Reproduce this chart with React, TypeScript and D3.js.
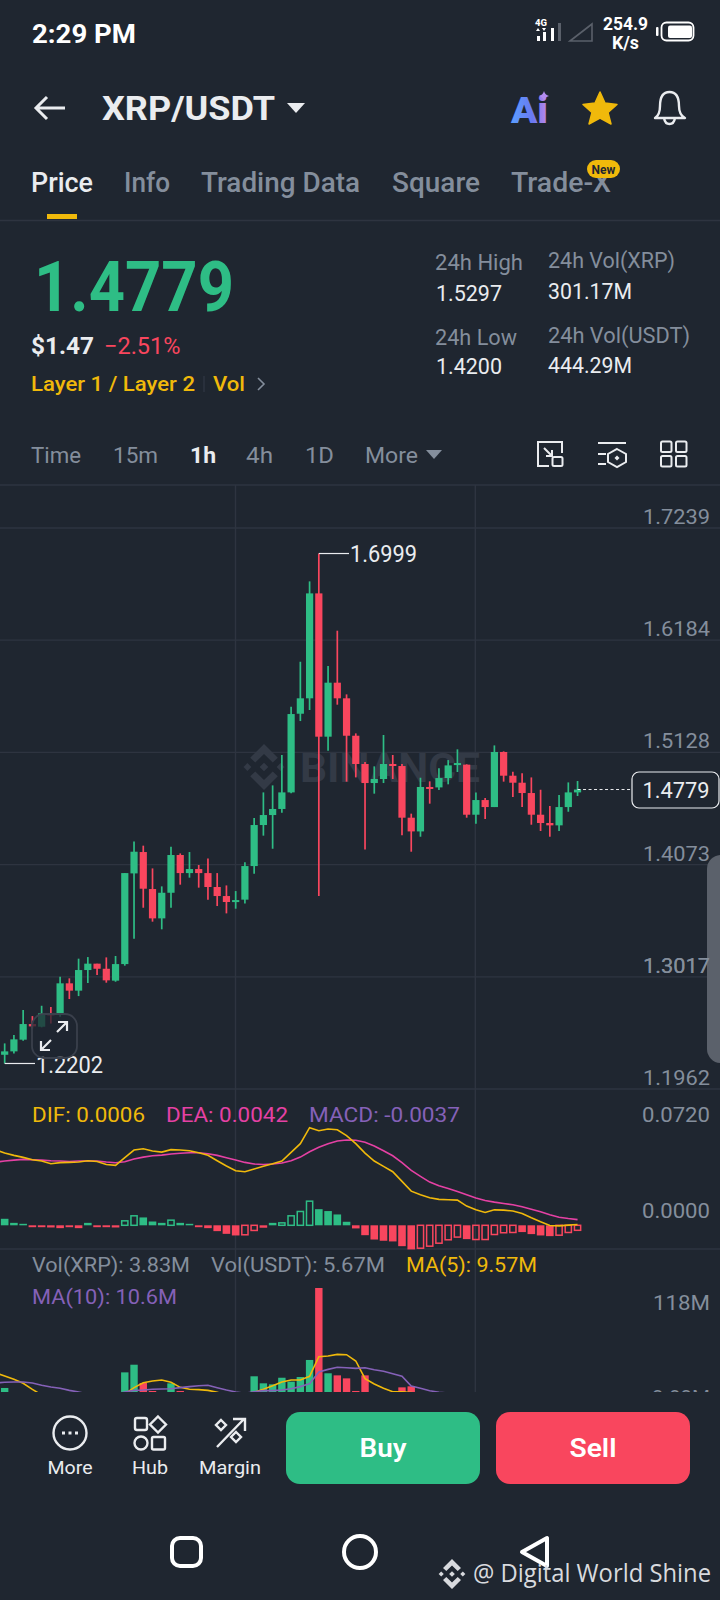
import * as React from "react";
import { scaleLinear, line as d3Line } from "d3";

const BG = "#1f2630";
const GRID = "#2e3440";
const GREEN = "#2ebd85";
const RED = "#f9465e";
const YELLOW = "#f0b90b";
const GREY = "#848e9c";
const PINK = "#e541a4";
const PURPLE = "#8561b8";
const FONT = "Roboto, Inter, sans-serif";

const priceTicks = [1.7239, 1.6184, 1.5128, 1.4073, 1.3017, 1.1962];
const priceTickLabels = ["1.7239", "1.6184", "1.5128", "1.4073", "1.3017", "1.1962"];

const opens = [
  1.2284, 1.2316, 1.2426, 1.2573, 1.2548, 1.2673, 1.2673, 1.2956, 1.2887, 1.3081,
  1.3141, 1.3093, 1.2981, 1.3137, 1.399, 1.4191, 1.3843, 1.3567, 1.3808, 1.4163,
  1.3993, 1.4031, 1.3993, 1.3862, 1.3777, 1.3724, 1.3743, 1.4059, 1.4445, 1.4539,
  1.4596, 1.4752, 1.5492, 1.5637, 1.6624, 1.5276, 1.5784, 1.5637, 1.5285, 1.5019,
  1.484, 1.4878, 1.5019, 1.5, 1.4514, 1.4385, 1.4803, 1.4799, 1.4887, 1.5009,
  1.5013, 1.4542, 1.468, 1.4614, 1.5132, 1.4909, 1.4843, 1.4746, 1.4542, 1.4464,
  1.4442, 1.4614, 1.4752,
];
const highs = [
  1.2391, 1.2469, 1.2705, 1.2648, 1.2745, 1.2733, 1.3018, 1.3003, 1.3188, 1.3203,
  1.3141, 1.32, 1.3213, 1.3993, 1.4291, 1.4251, 1.4037, 1.3868, 1.4241, 1.4178,
  1.4191, 1.4069, 1.4131, 1.3993, 1.3877, 1.3824, 1.4094, 1.4511, 1.4752, 1.4818,
  1.5104, 1.5558, 1.5981, 1.6737, 1.6999, 1.5941, 1.6273, 1.5674, 1.5307, 1.5038,
  1.4997, 1.5292, 1.5104, 1.5019, 1.4552, 1.489, 1.4856, 1.4978, 1.5056, 1.5157,
  1.5016, 1.4752, 1.4699, 1.5194, 1.5138, 1.4947, 1.4931, 1.4893, 1.4777, 1.4624,
  1.4727, 1.4846, 1.4859,
];
const lows = [
  1.2202, 1.2297, 1.2416, 1.2532, 1.2542, 1.2579, 1.2642, 1.2808, 1.2836, 1.2959,
  1.3034, 1.2962, 1.2971, 1.3122, 1.3376, 1.3667, 1.3536, 1.3464, 1.3667, 1.3884,
  1.395, 1.3856, 1.3743, 1.3683, 1.3614, 1.3658, 1.3708, 1.3987, 1.4345, 1.4222,
  1.4561, 1.4743, 1.5423, 1.5527, 1.3777, 1.5144, 1.5577, 1.4853, 1.4893, 1.4216,
  1.474, 1.484, 1.4878, 1.4348, 1.4194, 1.4335, 1.4646, 1.4774, 1.4828, 1.4944,
  1.4514, 1.4458, 1.4501, 1.4614, 1.4853, 1.4708, 1.4614, 1.4448, 1.4389, 1.4335,
  1.4389, 1.457, 1.4718,
];
const closes = [
  1.2316, 1.2429, 1.2573, 1.2551, 1.2673, 1.2658, 1.2956, 1.2887, 1.3081, 1.3141,
  1.3093, 1.2984, 1.3137, 1.3993, 1.4194, 1.3846, 1.3567, 1.3808, 1.4163, 1.3993,
  1.4031, 1.3993, 1.3862, 1.3777, 1.3721, 1.3739, 1.4059, 1.4445, 1.4539, 1.4596,
  1.4752, 1.5489, 1.5637, 1.6624, 1.5276, 1.5784, 1.5637, 1.5285, 1.5019, 1.484,
  1.4878, 1.5019, 1.5003, 1.4514, 1.4385, 1.4803, 1.4787, 1.4887, 1.5006, 1.5028,
  1.4542, 1.468, 1.4614, 1.5132, 1.4909, 1.4843, 1.4746, 1.4542, 1.4464, 1.4442,
  1.4614, 1.4752, 1.4779,
];

// macd panel, the line lists start one candle left of the screen
const difValues = [
  0.0558, 0.0533, 0.0516, 0.0501, 0.0484, 0.0474, 0.0454, 0.0462, 0.0464, 0.0467, 0.0476,
  0.0471, 0.0449, 0.0442, 0.0499, 0.0555, 0.0565, 0.0548, 0.054, 0.0558, 0.0555,
  0.055, 0.0535, 0.0516, 0.0476, 0.0437, 0.0403, 0.0395, 0.0415, 0.0435, 0.0454,
  0.0474, 0.0538, 0.0602, 0.072, 0.0698, 0.071, 0.0705, 0.0661, 0.0602, 0.0533,
  0.0474, 0.0435, 0.0395, 0.0324, 0.0252, 0.0225, 0.0203, 0.0191, 0.0188, 0.0186,
  0.0142, 0.0114, 0.0095, 0.0114, 0.0112, 0.0105, 0.0087, 0.0055, 0.0026, -0.0001,
  -0.0004, 0.0001, 0.0006,
];
const deaValues = [
  0.0466, 0.0474, 0.0481, 0.0486, 0.0484, 0.0481, 0.0476, 0.0474, 0.0471, 0.0474, 0.0474,
  0.0474, 0.0467, 0.0462, 0.0469, 0.0489, 0.0503, 0.0513, 0.0518, 0.0526, 0.0531,
  0.0535, 0.0535, 0.0528, 0.0516, 0.0499, 0.0481, 0.0464, 0.0452, 0.0449, 0.0452,
  0.0459, 0.0476, 0.0503, 0.0543, 0.0575, 0.0602, 0.0622, 0.0629, 0.0627, 0.0612,
  0.0585, 0.055, 0.0513, 0.0462, 0.0405, 0.0361, 0.0319, 0.0292, 0.0272, 0.025,
  0.0225, 0.0201, 0.0183, 0.0171, 0.0161, 0.0151, 0.0137, 0.0119, 0.01, 0.0078,
  0.006, 0.005, 0.0042,
];
const macdBars = [
  0.0048, 0.0018, 0.0011, -0.0014, -0.0014, -0.0016, -0.0021, -0.0014, -0.0021, 0.0018,
  -0.0014, -0.0014, -0.0016, 0.0033, 0.007, 0.0058, 0.0028, 0.0018, 0.0038, 0.0018,
  0.0011, -0.0014, -0.0021, -0.0043, -0.0063, -0.0075, -0.007, -0.0038, -0.0018, 0.0018,
  0.0018, 0.007, 0.0102, 0.0178, 0.0119, 0.0105, 0.008, 0.0026, -0.0023, -0.0073,
  -0.0105, -0.0114, -0.0119, -0.0154, -0.0178, -0.0169, -0.0154, -0.0132, -0.0107, -0.0087,
  -0.0102, -0.0105, -0.0105, -0.0068, -0.0055, -0.0053, -0.005, -0.0065, -0.0075, -0.008,
  -0.0073, -0.0053, -0.0037,
];
const macdHollow = [13, 14, 18, 26, 27, 30, 31, 32, 33, 45, 46, 47, 48, 49, 51, 52, 53, 54, 55, 60, 61, 62];

// volume in millions, most of it is cut off by the footer so those are guesses
const volumes = [
  21.3, 15, 17, 12, 14, 9, 16, 10, 13, 8, 10, 12, 14, 36.4, 43.8, 26.1, 18.4, 14, 25.8, 18.4,
  12, 11, 10, 12, 9, 8, 14, 32.6, 25.8, 24.8, 31.2, 27.4, 31.9, 48.4, 118, 35.5, 33.5, 30.6, 18.4, 33.5,
  12, 15, 10, 21.9, 22.9, 16, 8, 9, 10, 7, 15, 9, 6, 14, 12, 8, 9, 13, 11, 8, 9, 7, 3.83,
];
const ma5Values = [
  36.1, 32.9, 29.7, 25.8, 20, 14.5, 13, 12, 11.5, 11, 11, 10.5, 10.5, 11, 15.5, 21.6, 26.4, 28, 29,
  26.8, 21.9, 20, 19.7, 19, 17.1, 14.5, 14.5, 15.5, 17.1, 20, 23.5, 27.1, 29, 29, 32.6,
  51.6, 52.2, 53.8, 53.5, 47.4, 30.3, 25.1, 21, 17.7, 17.7, 16.8, 15.5, 14.5, 13.5, 13,
  12.5, 12, 12, 11.5, 12, 12, 11.5, 11, 11, 10.5, 10.5, 10, 9.8, 9.57,
];
const ma10Values = [
  26.1, 26.8, 27.1, 27.1, 26.1, 23.9, 22.2, 21, 19, 17.4, 15.5, 14.5, 13.9, 15.5, 17.4, 19, 19.3, 20, 20.3,
  20.6, 21.6, 22.6, 23.5, 23.9, 21.6, 19.3, 17.4, 16.1, 17.7, 18.7, 18.7, 19.3, 20.6, 22.6, 25.5,
  36.8, 39.3, 41.3, 40.9, 40.3, 40.9, 39, 37.4, 35.1, 32.6, 23.2, 21, 18.7, 17.1, 16.5,
  16, 15.5, 15, 14.5, 14, 13.5, 13, 12.5, 12, 11.5, 11.5, 11, 10.8, 10.6,
];

const x = scaleLinear().domain([0, 62]).range([4.67, 577.55]);
const priceY = scaleLinear().domain([1.1962, 1.7239]).range([1089, 528]);
const macdY = scaleLinear().domain([0, 0.072]).range([1225.3, 1127.7]);
const volY = scaleLinear().domain([0, 118]).range([1410, 1288]);

const macdLine = d3Line<number>()
  .x((_, i) => x(i - 1))
  .y((d) => macdY(d));
const volLine = d3Line<number>()
  .x((_, i) => x(i - 1))
  .y((d) => volY(d));

const BODY_W = 7.2;

// binance diamond, r is centre to tip
const BinanceLogo = ({ cx, cy, r, fill }: { cx: number; cy: number; r: number; fill: string }) => (
  <g transform={`translate(${cx},${cy}) scale(${r})`} fill={fill}>
    <path d="M0,-.19 L.19,0 L0,.19 L-.19,0Z" />
    <path d="M-.72,-.17 L-.55,0 L-.72,.17 L-.89,0Z" />
    <path d="M.72,-.17 L.89,0 L.72,.17 L.55,0Z" />
    <path d="M0,-1 L.6,-.4 L.38,-.2 L0,-.57 L-.38,-.2 L-.6,-.4Z" />
    <path d="M0,1 L.6,.4 L.38,.2 L0,.57 L-.38,.2 L-.6,.4Z" />
  </g>
);

// w forces the width measured off the reference, the app's own font isn't available
const Label = ({ x: tx, y, size, fill = GREY, weight = 400, anchor = "start", w, children }: any) => (
  <text
    x={tx}
    y={y}
    fontSize={size}
    fill={fill}
    fontWeight={weight}
    textAnchor={anchor}
    textLength={w}
    lengthAdjust={w ? "spacingAndGlyphs" : undefined}
  >
    {children}
  </text>
);

const Candles = () => (
  <g>
    {opens.map((o, i) => {
      const c = closes[i];
      const color = c >= o ? GREEN : RED;
      const top = priceY(Math.max(o, c));
      const bottom = priceY(Math.min(o, c));
      return (
        <g key={i}>
          <line x1={x(i)} x2={x(i)} y1={priceY(highs[i])} y2={priceY(lows[i])} stroke={color} strokeWidth={1.7} />
          <rect x={x(i) - BODY_W / 2} y={top} width={BODY_W} height={Math.max(bottom - top, 2)} fill={color} />
        </g>
      );
    })}
  </g>
);

const MacdBars = () => (
  <g>
    {macdBars.map((v, i) => {
      const color = v >= 0 ? GREEN : RED;
      const top = macdY(Math.max(v, 0));
      const h = Math.abs(macdY(v) - macdY(0));
      if (macdHollow.includes(i)) {
        return (
          <rect key={i} x={x(i) - 3.1} y={top} width={6.2} height={h} fill="none" stroke={color} strokeWidth={1.5} />
        );
      }
      return <rect key={i} x={x(i) - 3.8} y={top} width={7.6} height={Math.max(h, 1.5)} fill={color} />;
    })}
  </g>
);

const VolumeBars = () => (
  <g>
    {volumes.map((v, i) => (
      <rect
        key={i}
        x={x(i) - 3.7}
        y={volY(v)}
        width={7.4}
        height={volY(0) - volY(v)}
        fill={closes[i] >= opens[i] ? GREEN : RED}
      />
    ))}
  </g>
);

const StatusBar = () => (
  <g>
    <Label x={32} y={43} size={26} fill="#fff" weight={700} w={104}>2:29 PM</Label>
    <Label x={535} y={26} size={9.5} fill="#fff" weight={800}>4G</Label>
    <path d="M538,28 l2,3 h-4Z M544,31 l-2,-3 h4Z" fill="#fff" />
    <g fill="#fff">
      <rect x={537} y={36} width={3} height={5} />
      <rect x={543} y={32} width={3} height={9} />
      <rect x={551} y={28} width={3} height={13} />
    </g>
    <rect x={558} y={23} width={3} height={18} fill="#5a606a" />
    <path d="M570,41 L592,24 V41Z" fill="none" stroke="#5a606a" strokeWidth={1.6} />
    <Label x={625.5} y={30} size={18} fill="#fff" weight={700} anchor="middle" w={45}>254.9</Label>
    <Label x={625.5} y={49} size={18} fill="#fff" weight={700} anchor="middle" w={27}>K/s</Label>
    <rect x={656} y={27} width={2.5} height={9} rx={1} fill="#fff" />
    <rect x={661.5} y={22.5} width={32} height={18} rx={5} fill="none" stroke="#fff" strokeWidth={1.8} />
    <rect x={668} y={25.5} width={24} height={12.5} rx={2} fill="#fff" />
  </g>
);

const Header = () => (
  <g>
    <path d="M36,108 H65 M47,97 L36,108 L47,119" fill="none" stroke="#eaecef" strokeWidth={3} />
    <Label x={102} y={120} size={33} fill="#eaecef" weight={700} w={173}>XRP/USDT</Label>
    <path d="M287,103 H305 L296,113Z" fill="#eaecef" />
    <defs>
      <linearGradient id="aiGrad" x1="0" x2="1" y1="0" y2="0">
        <stop offset="0" stopColor="#5aa0ff" />
        <stop offset="0.6" stopColor="#6a78f0" />
        <stop offset="1" stopColor="#c088e8" />
      </linearGradient>
    </defs>
    <Label x={511} y={123} size={37} fill="url(#aiGrad)" weight={900} w={37}>Ai</Label>
    <path d="M544,91 Q545,95 549,96 Q545,97 544,101 Q543,97 539,96 Q543,95 544,91Z" fill="#b38cf0" />
    <path
      d="M600,92 L605,103 L617,104.5 L608,112.5 L611,124 L600,118 L589,124 L592,112.5 L583,104.5 L595,103Z"
      fill={YELLOW}
      stroke={YELLOW}
      strokeLinejoin="round"
      strokeWidth={1.5}
    />
    <path
      d="M655,118 Q660,115 660,106 Q660,92 669.5,92 Q679,92 679,106 Q679,115 685,118 Z M664,118 Q665,124 669.5,124 Q674,124 675,118"
      fill="none"
      stroke="#eaecef"
      strokeWidth={2.4}
      strokeLinejoin="round"
    />
    <Label x={31} y={192} size={27} fill="#eaecef" weight={500} w={62}>Price</Label>
    <Label x={124} y={192} size={27} weight={500} w={46}>Info</Label>
    <Label x={201} y={192} size={27} weight={500} w={159}>Trading Data</Label>
    <Label x={392} y={192} size={27} weight={500} w={88}>Square</Label>
    <Label x={511} y={192} size={27} weight={500} w={100}>Trade-X</Label>
    <rect x={587} y={160} width={33} height={18} rx={9} fill={YELLOW} />
    <Label x={603.5} y={173.5} size={12} fill="#1f2630" weight={700} anchor="middle">New</Label>
    <rect x={47} y={214} width={30} height={5} fill={YELLOW} />
    <line x1={0} x2={720} y1={220.5} y2={220.5} stroke={GRID} strokeWidth={1.5} />
  </g>
);

const Stats = () => (
  <g>
    <Label x={34} y={311} size={70} fill={GREEN} weight={700} w={200}>1.4779</Label>
    <Label x={31} y={354} size={23} fill="#eaecef" weight={700} w={63}>$1.47</Label>
    <Label x={104} y={354} size={23} fill={RED} w={76.5}>−2.51%</Label>
    <Label x={31} y={391} size={20} fill={YELLOW} weight={500} w={164}>Layer 1 / Layer 2</Label>
    <line x1={204} x2={204} y1={376} y2={392} stroke={GRID} strokeWidth={1.5} />
    <Label x={213} y={391} size={20} fill={YELLOW} weight={500} w={32}>Vol</Label>
    <path d="M258,378 L264,384 L258,390" fill="none" stroke={GREY} strokeWidth={1.6} />
    <Label x={435} y={270} size={21.5} w={88}>24h High</Label>
    <Label x={436} y={301} size={21.5} fill="#eaecef" w={66}>1.5297</Label>
    <Label x={548} y={268} size={21.5} w={127}>24h Vol(XRP)</Label>
    <Label x={548} y={299} size={21.5} fill="#eaecef" w={84}>301.17M</Label>
    <Label x={435} y={345} size={21.5} w={82}>24h Low</Label>
    <Label x={436} y={374} size={21.5} fill="#eaecef" w={66}>1.4200</Label>
    <Label x={548} y={343} size={21.5} w={142}>24h Vol(USDT)</Label>
    <Label x={548} y={373} size={21.5} fill="#eaecef" w={84}>444.29M</Label>
  </g>
);

const IntervalRow = () => (
  <g>
    <Label x={31} y={463} size={22} w={50}>Time</Label>
    <Label x={113} y={463} size={22} w={45}>15m</Label>
    <Label x={190} y={463} size={22} fill="#eaecef" weight={700} w={26}>1h</Label>
    <Label x={246} y={463} size={22} w={27}>4h</Label>
    <Label x={305} y={463} size={22} w={29}>1D</Label>
    <Label x={365} y={463} size={22} w={53}>More</Label>
    <path d="M426,450 H442 L434,459Z" fill={GREY} />
    <g fill="none" stroke="#eaecef" strokeWidth={2}>
      <path d="M549,466 H538 V442 H562 V453" />
      <rect x={552.5} y={457} width={10} height={9} rx={1.5} />
      <path d="M544,448 L552,456 M552,450 V456 H546" />
      <path d="M598,443 H626 M598,454 H606 M598,464 H606" />
      <path d="M617,449 L626,454 V462 L617,467 L608,462 V454Z" />
      <rect x={661} y={441.5} width={10.5} height={10.5} rx={1.5} />
      <rect x={676} y={441.5} width={10.5} height={10.5} rx={1.5} />
      <rect x={661} y={456} width={10.5} height={10.5} rx={1.5} />
      <rect x={676} y={456} width={10.5} height={10.5} rx={1.5} />
    </g>
    <path d="M617,455.5 l2.5,2.5 l-2.5,2.5 l-2.5,-2.5Z" fill="#eaecef" />
    <line x1={0} x2={720} y1={485} y2={485} stroke={GRID} strokeWidth={1.5} />
  </g>
);

const Footer = () => (
  <g>
    <rect x={0} y={1392} width={720} height={208} fill={BG} />
    <g fill="none" stroke="#eaecef" strokeWidth={2.4}>
      <circle cx={70} cy={1433} r={16.5} />
      <rect x={135} y={1418} width={12} height={12} rx={2} />
      <path d="M158,1416.5 L166,1424.5 L158,1432.5 L150,1424.5Z" />
      <circle cx={141} cy={1443} r={6.5} />
      <rect x={152} y={1437} width={13} height={12.5} rx={1.5} />
      <path d="M217,1447 L244,1419 M233,1419 H245 V1431" />
      <path d="M221,1420 L226,1425 L221,1430 L216,1425Z" />
      <path d="M236,1432 L241,1437 L236,1442 L231,1437Z" />
    </g>
    <g fill="#eaecef">
      <rect x={62} y={1431.5} width={3} height={3} />
      <rect x={68.5} y={1431.5} width={3} height={3} />
      <rect x={75} y={1431.5} width={3} height={3} />
    </g>
    <Label x={70} y={1474} size={19} fill="#eaecef" anchor="middle" w={45}>More</Label>
    <Label x={150} y={1474} size={19} fill="#eaecef" anchor="middle" w={36}>Hub</Label>
    <Label x={230} y={1474} size={19} fill="#eaecef" anchor="middle" w={62}>Margin</Label>
    <rect x={286} y={1412} width={194} height={72} rx={14} fill={GREEN} />
    <Label x={383} y={1457} size={26} fill="#fff" weight={600} anchor="middle" w={47}>Buy</Label>
    <rect x={496} y={1412} width={194} height={72} rx={14} fill={RED} />
    <Label x={593} y={1457} size={26} fill="#fff" weight={600} anchor="middle" w={47}>Sell</Label>
    <g fill="none" stroke="#fff" strokeWidth={4}>
      <rect x={172} y={1538} width={29} height={28} rx={8} />
      <circle cx={360} cy={1552} r={16} />
      <path d="M547,1538 V1566 L522,1552Z" strokeLinejoin="round" />
    </g>
    <BinanceLogo cx={452} cy={1574} r={15} fill="#d8dade" />
    <text x={473} y={1582} fontSize={25} fill="#d8dade" fontFamily="'Open Sans', sans-serif" textLength={238} lengthAdjust="spacingAndGlyphs">
      @ Digital World Shine
    </text>
  </g>
);

export default function App() {
  const lastY = priceY(closes[closes.length - 1]);
  return (
    <svg
      width={720}
      height={1600}
      style={{ position: "absolute", left: 0, top: 0, background: BG, fontFamily: FONT }}
    >
      <StatusBar />
      <Header />
      <Stats />
      <IntervalRow />

      {/* grid */}
      {[235.5, 475.3].map((gx) => (
        <line key={gx} x1={gx} x2={gx} y1={485} y2={1392} stroke={GRID} strokeWidth={1.4} />
      ))}
      {priceTicks.map((t) => (
        <line key={t} x1={0} x2={720} y1={priceY(t)} y2={priceY(t)} stroke={GRID} strokeWidth={1.4} />
      ))}
      <line x1={0} x2={720} y1={1249} y2={1249} stroke={GRID} strokeWidth={1.4} />

      {/* watermark sits under the candles */}
      <BinanceLogo cx={264} cy={767} r={23} fill="#333a46" />
      <text x={300} y={782} fontSize={40} fontWeight={700} fill="#333a46" textLength={180} lengthAdjust="spacingAndGlyphs">
        BINANCE
      </text>

      <Candles />

      {priceTickLabels.map((t, i) => (
        <Label key={t} x={710} y={priceY(priceTicks[i]) - 4} size={21} anchor="end" w={67}>{t}</Label>
      ))}

      {/* high and low markers */}
      <line x1={x(34)} x2={349} y1={priceY(highs[34])} y2={priceY(highs[34])} stroke="#eaecef" strokeWidth={1.2} />
      <Label x={350} y={562} size={23} fill="#eaecef" w={67}>1.6999</Label>
      <line x1={x(0)} x2={35} y1={priceY(lows[0])} y2={priceY(lows[0])} stroke="#eaecef" strokeWidth={1.2} />
      <Label x={36} y={1073} size={23} fill="#eaecef" w={67}>1.2202</Label>

      {/* expand button */}
      <rect x={32} y={1014} width={45} height={44} rx={12} fill={BG} fillOpacity={0.75} stroke="#3a404c" strokeWidth={1.8} />
      <path
        d="M57,1032 L67,1022 M58,1022 H67 V1031 M51,1040 L41,1050 M41,1041 V1050 H50"
        fill="none"
        stroke="#eaecef"
        strokeWidth={2.2}
      />

      {/* last price */}
      <line x1={x(62)} x2={632} y1={lastY} y2={lastY} stroke="#eaecef" strokeWidth={1} strokeDasharray="3 2.5" />
      <rect x={632} y={772} width={87} height={36} rx={7} fill={BG} stroke="#eaecef" strokeWidth={1.2} />
      <Label x={676} y={798} size={21.5} fill="#eaecef" anchor="middle" w={67}>1.4779</Label>

      {/* side handle */}
      <rect x={707} y={855} width={30} height={208} rx={14} fill="#5b616b" />
      <Label x={710} y={973} size={21} anchor="end" w={67}>1.3017</Label>

      {/* macd */}
      <Label x={32} y={1122} size={21} fill={YELLOW} w={113}>DIF: 0.0006</Label>
      <Label x={166} y={1122} size={21} fill={PINK} w={122}>DEA: 0.0042</Label>
      <Label x={309} y={1122} size={21} fill={PURPLE} w={151}>MACD: -0.0037</Label>
      <Label x={710} y={1122} size={21} anchor="end" w={68}>0.0720</Label>
      <Label x={710} y={1218} size={21} anchor="end" w={68}>0.0000</Label>
      <MacdBars />
      <path d={macdLine(deaValues) || ""} fill="none" stroke={PINK} strokeWidth={1.6} />
      <path d={macdLine(difValues) || ""} fill="none" stroke={YELLOW} strokeWidth={1.6} />

      {/* volume */}
      <Label x={32} y={1272} size={21} w={158}>Vol(XRP): 3.83M</Label>
      <Label x={211} y={1272} size={21} w={174}>Vol(USDT): 5.67M</Label>
      <Label x={406} y={1272} size={21} fill={YELLOW} w={131}>MA(5): 9.57M</Label>
      <Label x={32} y={1304} size={21} fill={PURPLE} w={145}>MA(10): 10.6M</Label>
      <Label x={710} y={1310} size={21} anchor="end" w={57}>118M</Label>
      <Label x={710} y={1405} size={21} anchor="end" w={58}>3.83M</Label>
      <VolumeBars />
      <path d={volLine(ma5Values) || ""} fill="none" stroke={YELLOW} strokeWidth={1.6} />
      <path d={volLine(ma10Values) || ""} fill="none" stroke={PURPLE} strokeWidth={1.6} />

      <Footer />
    </svg>
  );
}
